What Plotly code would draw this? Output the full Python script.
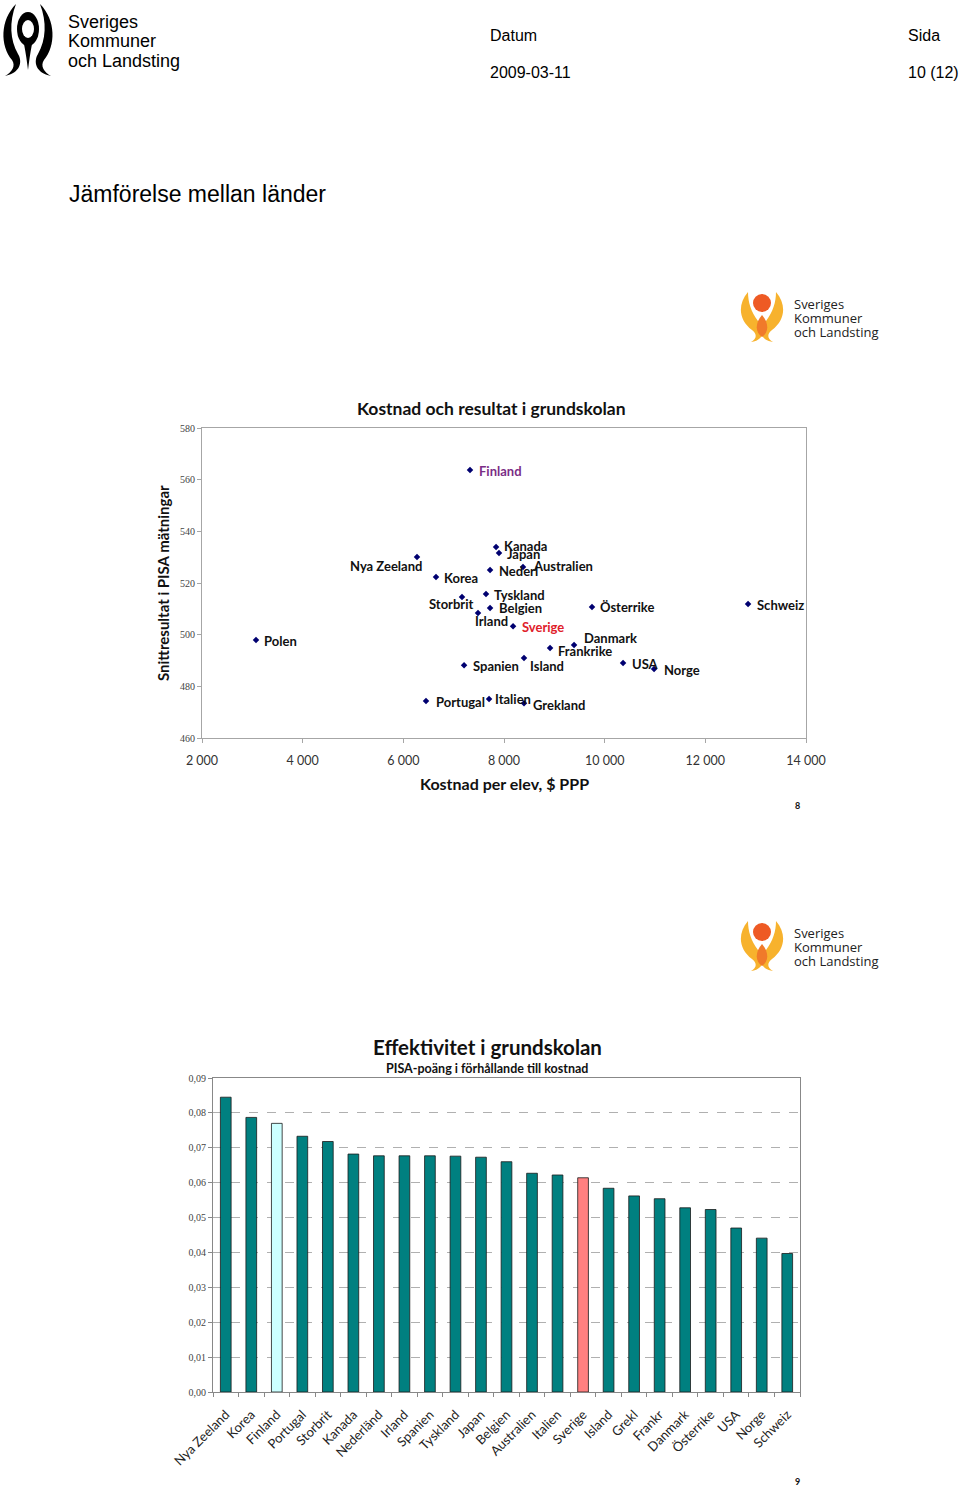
import plotly.graph_objects as go

# ---------------- data ----------------
countries = ["Finland", "Polen", "Nya Zeeland", "Korea", "Storbrit", "Irland", "Kanada", "Japan",
             "Nederl", "Australien", "Tyskland", "Belgien", "Sverige", "Österrike", "Schweiz",
             "Danmark", "Frankrike", "USA", "Norge", "Spanien", "Island", "Portugal", "Italien", "Grekland"]
cost_ppp = [7325, 3073, 6272, 6649, 7166, 7484, 7842, 7901,
            7723, 8378, 7643, 7723, 8180, 9749, 12849,
            9392, 8915, 10365, 10981, 7206, 8398, 6451, 7703, 8398]
pisa_score = [563.7, 497.9, 530.1, 522.3, 514.6, 508.4, 533.9, 531.6,
              525.0, 526.2, 515.7, 510.3, 503.3, 510.7, 511.9,
              496.0, 494.8, 489.0, 486.7, 488.2, 491.0, 474.3, 475.1, 473.5]

bar_countries = ["Nya Zeeland", "Korea", "Finland", "Portugal", "Storbrit", "Kanada", "Nederländ",
                 "Irland", "Spanien", "Tyskland", "Japan", "Belgien", "Australien", "Italien",
                 "Sverige", "Island", "Grekl", "Frankr", "Danmark", "Österrike", "USA", "Norge", "Schweiz"]
efficiency = [0.0845, 0.0787, 0.0770, 0.0733, 0.0718, 0.0682, 0.0677,
              0.0677, 0.0677, 0.0676, 0.0673, 0.0660, 0.0627, 0.0622,
              0.0614, 0.0584, 0.0562, 0.0554, 0.0528, 0.0523, 0.0470, 0.0441, 0.0397]

x_ticks = [2000, 4000, 6000, 8000, 10000, 12000, 14000]
y_ticks = [460, 480, 500, 520, 540, 560, 580]

# ---------------- styling (label placement in px relative to marker) ----------------
label_style = {
    "Finland": ("left", 7, 1), "Polen": ("left", 6, 1), "Nya Zeeland": ("right", 7, 9),
    "Korea": ("left", 6, 1), "Storbrit": ("center", -11, 7), "Irland": ("center", 13, 8),
    "Kanada": ("left", 6, -1), "Japan": ("left", 6, 1), "Nederl": ("left", 7, 1),
    "Australien": ("left", 8, -1), "Tyskland": ("left", 6, 1), "Belgien": ("left", 7, 0),
    "Sverige": ("left", 7, 1), "Österrike": ("left", 6, 0), "Schweiz": ("left", 7, 1),
    "Danmark": ("left", 8, -7), "Frankrike": ("left", 6, 3), "USA": ("left", 7, 1),
    "Norge": ("left", 8, 1), "Spanien": ("left", 7, 1), "Island": ("left", 4, 8),
    "Portugal": ("left", 8, 1), "Italien": ("left", 4, 0), "Grekland": ("left", 7, 2),
}
label_color = {"Finland": "#7B2D86", "Sverige": "#E0202A"}

W, H = 960, 1487
def px(x): return x / W
def py(y): return 1 - y / H

LATO = "Lato, Open Sans, sans-serif"
SERIF = "Liberation Serif, Times New Roman, serif"
SANS = "Liberation Sans, Arial, sans-serif"

fig = go.Figure()

# scatter
fig.add_trace(go.Scatter(x=cost_ppp, y=pisa_score, mode="markers",
                         marker=dict(symbol="diamond", size=5, color="#000070"),
                         xaxis="x", yaxis="y", showlegend=False, hoverinfo="text", text=countries))

annotations = []
for c, xv, yv in zip(countries, cost_ppp, pisa_score):
    anchor, dx, dy = label_style[c]
    annotations.append(dict(x=xv, y=yv, xref="x", yref="y", text=c, showarrow=False,
                            xanchor=anchor, yanchor="middle", xshift=dx, yshift=-dy,
                            font=dict(family=LATO, size=13, color=label_color.get(c, "#111111"),
                                      weight="bold")))

# bars
bar_colors = ["#CCFFFF" if c == "Finland" else ("#FF8080" if c == "Sverige" else "#008080")
              for c in bar_countries]
fig.add_trace(go.Bar(x=bar_countries, y=efficiency, marker=dict(color=bar_colors,
                     line=dict(color="#1a1a1a", width=0.8)),
                     xaxis="x2", yaxis="y2", showlegend=False, width=0.42))

axis_line = "#A6A6A6"
fig.update_layout(
    width=W, height=H, margin=dict(l=0, r=0, t=0, b=0, autoexpand=False),
    paper_bgcolor="white", plot_bgcolor="white", separators=", ",
    xaxis=dict(domain=[px(202), px(806)], range=[2000, 14000], tickvals=x_ticks,
               tickformat=",.0f", showgrid=False, zeroline=False, automargin=False,
               showline=True, linecolor=axis_line, linewidth=1, mirror=True,
               ticks="outside", ticklen=4, tickcolor=axis_line, ticklabelstandoff=7,
               tickfont=dict(family=LATO, size=12.5, color="#333333"), anchor="y"),
    yaxis=dict(domain=[py(738), py(428)], range=[460, 580], tickvals=y_ticks,
               showgrid=False, zeroline=False, automargin=False,
               showline=True, linecolor=axis_line, linewidth=1, mirror=True,
               ticks="outside", ticklen=4, tickcolor=axis_line,
               tickfont=dict(family=SERIF, size=10, color="#444444"), anchor="x"),
    xaxis2=dict(domain=[px(213), px(800)], type="category", tickson="boundaries",
                tickangle=-45, showgrid=False, zeroline=False, automargin=False,
                showline=True, linecolor="#888888", linewidth=1, mirror=True,
                ticks="outside", ticklen=4, tickcolor="#888888", ticklabelstandoff=9,
                tickfont=dict(family=LATO, size=13, color="#222222"), anchor="y2"),
    yaxis2=dict(domain=[py(1392), py(1078)], range=[0, 0.09], dtick=0.01, tickformat=".2f",
                showgrid=True, gridcolor="#B0B0B0", griddash="dash", gridwidth=1, zeroline=False,
                automargin=False,
                showline=True, linecolor="#888888", linewidth=1, mirror=True,
                ticks="outside", ticklen=4, tickcolor="#888888",
                tickfont=dict(family=SERIF, size=10, color="#444444"), anchor="x2"),
    bargap=0.58,
)

def txt(x, y, s, size, family=SANS, color="#000000", anchor="left", weight="normal", angle=0):
    annotations.append(dict(x=px(x), y=py(y), xref="paper", yref="paper", text=s, showarrow=False,
                            xanchor=anchor, yanchor="middle", textangle=angle,
                            font=dict(family=family, size=size, color=color, weight=weight)))

# header
txt(66, 22, "Sveriges", 18)
txt(66, 41, "Kommuner", 18)
txt(66, 61, "och Landsting", 18)
txt(488, 35, "Datum", 16)
txt(906, 35, "Sida", 16)
txt(488, 73, "2009-03-11", 16)
txt(906, 73, "10 (12)", 16)
txt(67, 194, "Jämförelse mellan länder", 23)

# scatter texts
txt(492, 408, "Kostnad och resultat i grundskolan", 17.5, LATO, "#111111", "center", "bold")
txt(163, 583, "Snittresultat i PISA mätningar", 15, LATO, "#111111", "center", "bold", -90)
txt(504, 784, "Kostnad per elev, $ PPP", 16, LATO, "#111111", "center", "bold")
txt(797, 805, "8", 9, LATO, "#111111", "center", "bold")

# bar texts
txt(487, 1047, "Effektivitet i grundskolan", 20.5, LATO, "#111111", "center", "bold")
txt(487, 1068, "PISA-poäng i förhållande till kostnad", 12.5, LATO, "#111111", "center", "bold")
txt(797, 1481, "9", 9, LATO, "#111111", "center", "bold")

# logo texts (coloured logos)
for oy in (0, 629):
    txt(792, 304 + oy, "Sveriges", 13, "Open Sans, sans-serif", "#222222")
    txt(792, 318 + oy, "Kommuner", 13, "Open Sans, sans-serif", "#222222")
    txt(792, 332 + oy, "och Landsting", 13, "Open Sans, sans-serif", "#222222")

fig.update_layout(annotations=annotations)

# ---------------- logo shapes ----------------
def path(cmds, ox=0, oy=0):
    out = []
    for cmd, pts in cmds:
        s = cmd + " " + " ".join(f"{px(x + ox):.5f},{py(y + oy):.5f}" for x, y in pts)
        out.append(s)
    return " ".join(out) + " Z"

def mirror(cmds, cx):
    return [(c, [(2 * cx - x, y) for x, y in pts]) for c, pts in cmds]

shapes = []
# black logo (top left)
left_flame = [("M", [(16, 4)]), ("C", [(0, 20), (0, 46), (12, 60)]), ("C", [(16, 66), (12, 72), (5, 76)]),
              ("C", [(20, 73), (23, 62), (18, 54)]), ("C", [(10, 40), (9, 22), (16, 4)])]
shapes.append(dict(type="path", path=path(left_flame), xref="paper", yref="paper",
                   fillcolor="black", line=dict(width=0)))
shapes.append(dict(type="path", path=path(mirror(left_flame, 28)), xref="paper", yref="paper",
                   fillcolor="black", line=dict(width=0)))
shapes.append(dict(type="circle", x0=px(17), x1=px(39), y0=py(46), y1=py(12), xref="paper", yref="paper",
                   fillcolor="black", line=dict(width=0)))
shapes.append(dict(type="circle", x0=px(22), x1=px(34), y0=py(38), y1=py(20), xref="paper", yref="paper",
                   fillcolor="white", line=dict(width=0)))
body = [("M", [(24, 44)]), ("L", [(32, 44)]), ("C", [(30, 54), (29, 62), (28, 70)]), ("C", [(27, 62), (26, 54), (24, 44)])]
shapes.append(dict(type="path", path=path(body), xref="paper", yref="paper",
                   fillcolor="black", line=dict(width=0)))

# coloured logos
yflame = [("M", [(748, 292)]), ("C", [(737, 305), (739, 320), (752, 330)]), ("C", [(758, 335), (756, 339), (751, 342)]),
          ("C", [(765, 340), (765, 329), (758, 321)]), ("C", [(751, 312), (748, 302), (748, 292)])]
cflame = [("M", [(762, 315)]), ("C", [(755, 323), (755, 332), (762, 337)]), ("C", [(769, 332), (769, 323), (762, 315)])]
for oy in (0, 629):
    shapes.append(dict(type="path", path=path(yflame, 0, oy), xref="paper", yref="paper",
                       fillcolor="#F7B22D", line=dict(width=0)))
    shapes.append(dict(type="path", path=path(mirror(yflame, 762), 0, oy), xref="paper", yref="paper",
                       fillcolor="#F7B22D", line=dict(width=0)))
    shapes.append(dict(type="path", path=path(cflame, 0, oy), xref="paper", yref="paper",
                       fillcolor="#F07A2A", line=dict(width=0)))
    shapes.append(dict(type="circle", x0=px(753), x1=px(771), y0=py(312 + oy), y1=py(294 + oy),
                       xref="paper", yref="paper", fillcolor="#EE5A24", line=dict(width=0)))

fig.update_layout(shapes=shapes)
fig.write_html("out.html", config={"displayModeBar": False},
               post_script="document.body.style.margin='0';document.body.style.overflow='hidden';")
